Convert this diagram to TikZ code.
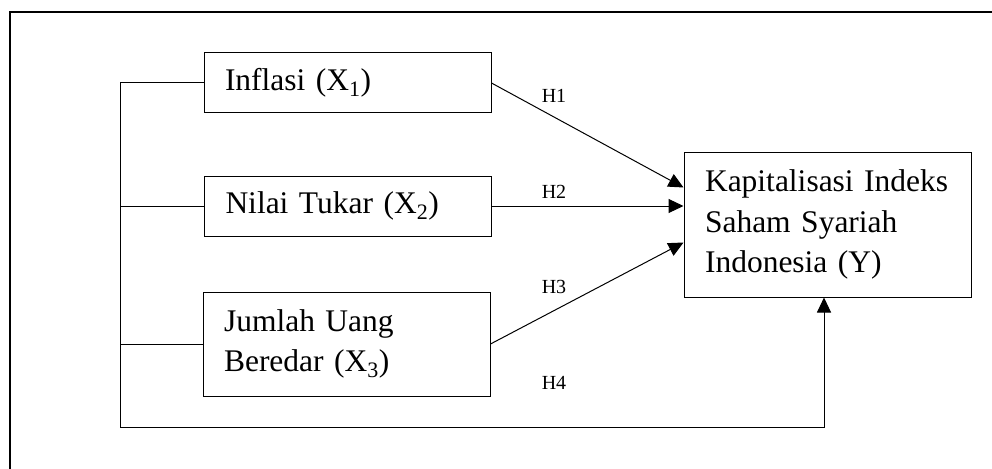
\documentclass[tikz,border=0pt]{standalone}
\usepackage{fontspec}
\setmainfont{Liberation Serif}
\usetikzlibrary{arrows.meta,calc}
\begin{document}
\begin{tikzpicture}[x=1pt,y=-1pt,
  box/.style={draw,line width=1pt,rectangle,inner xsep=21pt,inner ysep=0pt,
    text width=245pt,minimum height=#1,align=left,
    font=\fontsize{31.5}{40.7}\selectfont},
  conn/.style={line width=1pt},
  arr/.style={line width=1pt,-{Triangle[length=15pt,width=14pt]}},
  hlab/.style={font=\fontsize{20}{24}\selectfont,inner sep=0pt}]
\useasboundingbox (0,0) rectangle (992,468);
% outer frame (right and bottom edges lie outside the picture)
\draw[line width=2.5pt] (10,480) -- (10,12) -- (1000,12);
% boxes
\node[box=60pt] (inf) at (347.5,83) {Inflasi (X\textsubscript{1})};
\node[box=60pt] (nil) at (348,206) {Nilai Tukar (X\textsubscript{2})};
\node[box=104pt] (jum) at (346.5,344) {Jumlah Uang\\Beredar (X\textsubscript{3})};
\node[box=145pt] (Y) at (827.5,224.5) {Kapitalisasi Indeks\\Saham Syariah\\Indonesia (Y)};
% left bus
\coordinate (bt) at (120,83);
\coordinate (bb) at (120,427);
\coordinate (bj) at (120,344);
\coordinate (bn) at (120,206);
\draw[conn] (bt) -- (bb);
\draw[conn] (bt) -- (inf.west);
\draw[conn] (bn) -- (nil.west);
\draw[conn] (bj) -- (jum.west);
% hypotheses arrows
\coordinate (t1) at ($(Y.north west)+(0,36)$);
\coordinate (t3) at ($(Y.north west)+(0,91)$);
\draw[arr] (inf.east) -- (t1);
\draw[arr] (nil.east) -- (nil.east -| Y.west);
\draw[arr] (jum.east) -- (t3);
\coordinate (c4) at (824,427);
\draw[arr] (bb) -- (c4) -- (c4 |- Y.south);
% labels
\node[hlab] (h1) at (554,96) {H1};
\node[hlab] (h2) at (554,192) {H2};
\node[hlab] (h3) at (554,287) {H3};
\node[hlab] (h4) at (554,383) {H4};
\end{tikzpicture}
\end{document}
